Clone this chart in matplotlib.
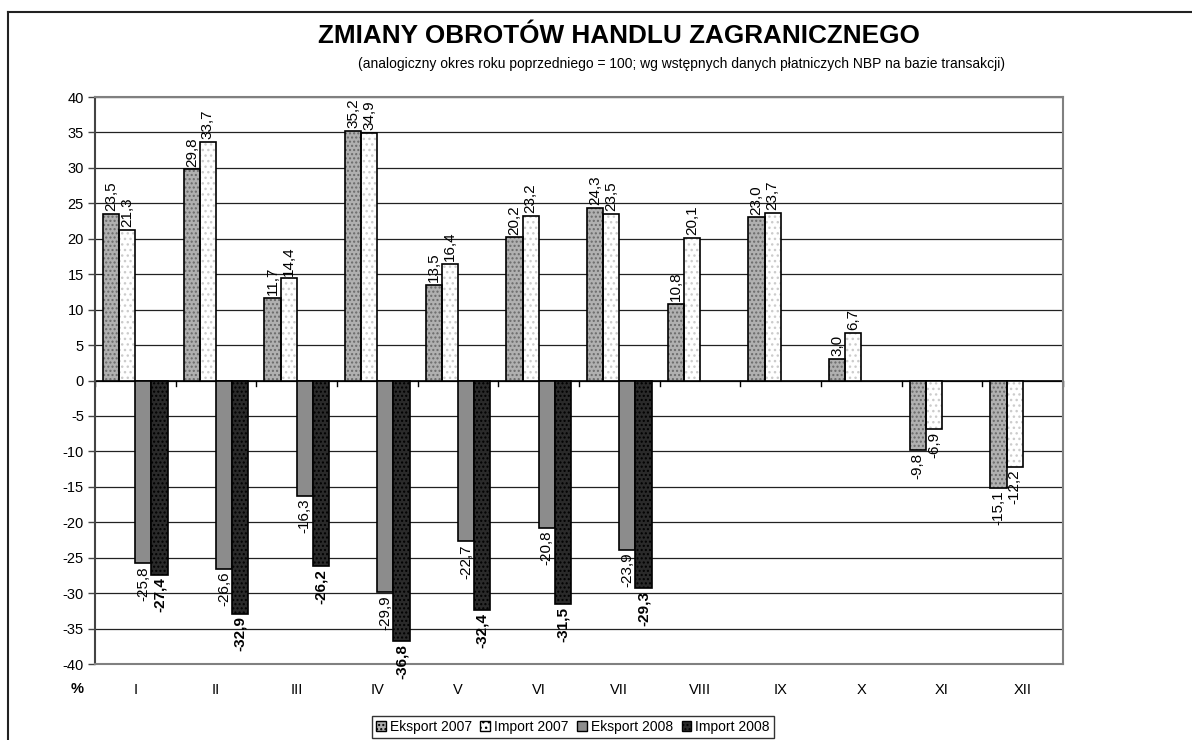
import matplotlib
matplotlib.use("Agg")
import matplotlib.pyplot as plt
from matplotlib.patches import Patch
from matplotlib.lines import Line2D
import numpy as np

plt.rcParams['font.family'] = ['Liberation Sans', 'DejaVu Sans']

months = ["I", "II", "III", "IV", "V", "VI", "VII", "VIII", "IX", "X", "XI", "XII"]
eksport_2007 = [23.5, 29.8, 11.7, 35.2, 13.5, 20.2, 24.3, 10.8, 23.0, 3.0, -9.8, -15.1]
import_2007 = [21.3, 33.7, 14.4, 34.9, 16.4, 23.2, 23.5, 20.1, 23.7, 6.7, -6.9, -12.2]
eksport_2008 = [-25.8, -26.6, -16.3, -29.9, -22.7, -20.8, -23.9]
import_2008 = [-27.4, -32.9, -26.2, -36.8, -32.4, -31.5, -29.3]
series_names = ["Eksport 2007", "Import 2007", "Eksport 2008", "Import 2008"]
y_ticks = list(range(-40, 45, 5))

# (face, hatch, hatch colour, bold label)
styles = [
    ("#b0b0b0", "....", "#6a6a6a", False),
    ("#ffffff", "...", "#cccccc", False),
    ("#8c8c8c", "", None, False),
    ("#2a2a2a", "....", "#000000", True),
]

fig = plt.figure(figsize=(11.92, 7.40), dpi=100)
ax = fig.add_axes([95 / 1192, 1 - 664 / 740, (1063 - 95) / 1192, (664 - 97) / 740])

w = 0.2
offsets = [-0.3, -0.1, 0.1, 0.3]
data = [eksport_2007, import_2007, eksport_2008, import_2008]

for s, vals in enumerate(data):
    face, hatch, hcol, bold = styles[s]
    x = np.arange(len(vals)) + offsets[s]
    if hatch:
        ax.bar(x, vals, width=w, color=face, hatch=hatch, edgecolor=hcol, linewidth=0, zorder=3)
        ax.bar(x, vals, width=w, fill=False, edgecolor="black", linewidth=1.2, zorder=4)
    else:
        ax.bar(x, vals, width=w, color=face, edgecolor="black", linewidth=1.2, zorder=3)
    for xi, v in zip(x, vals):
        txt = ("%.1f" % v).replace(".", ",")
        ax.annotate(txt, (xi, v), xytext=(0, 2 if v > 0 else -2), textcoords="offset points",
                    rotation=90, ha="center", va="bottom" if v > 0 else "top",
                    fontsize=11, fontweight="bold" if bold else "normal", zorder=5)

ax.set_xlim(-0.5, len(months) - 0.5)
ax.set_ylim(-40, 40)
ax.set_yticks(y_ticks)
ax.set_yticklabels([str(t) for t in y_ticks], fontsize=10.5)
ax.yaxis.grid(True, color="#222222", linewidth=0.9, zorder=1)
ax.set_axisbelow(True)
ax.tick_params(axis="y", length=5, width=1, color="#444444", pad=3)

ax.set_xticks(range(len(months)))
ax.set_xticklabels(months, fontsize=10.5)
ax.tick_params(axis="x", length=0, pad=14)

# zero axis with category boundary ticks
ax.axhline(0, color="black", linewidth=1.2, zorder=2)
for b in np.arange(len(months) + 1) - 0.5:
    ax.plot([b, b], [0, -0.8], color="black", linewidth=1, zorder=2, clip_on=False)

for side in ["right", "bottom", "top"]:
    ax.spines[side].set_color("#808080")
    ax.spines[side].set_linewidth(1.5)
ax.spines["left"].set_color("#444444")
ax.spines["left"].set_linewidth(1.5)

fig.text(77 / 1192, 1 - 689 / 740, "%", fontsize=10.5, fontweight="bold", ha="center", va="center")
fig.text(619 / 1192, 1 - 36 / 740, "ZMIANY OBROTÓW HANDLU ZAGRANICZNEGO",
         fontsize=18.8, fontweight="bold", ha="center", va="center")
fig.text(682 / 1192, 1 - 64 / 740,
         "(analogiczny okres roku poprzedniego = 100; wg wstępnych danych płatniczych NBP na bazie transakcji)",
         fontsize=10, ha="center", va="center")

# outer frame of the chart area
fig.add_artist(Line2D([8 / 1192, 1], [1 - 12 / 740, 1 - 12 / 740], color="#222222", linewidth=1.5))
fig.add_artist(Line2D([8 / 1192, 8 / 1192], [0, 1 - 12 / 740], color="#222222", linewidth=1.5))

handles = []
for s in range(4):
    face, hatch, hcol, bold = styles[s]
    handles.append(Patch(facecolor=face, edgecolor="black", hatch=hatch, linewidth=1))
leg = fig.legend(handles, series_names, loc="center", bbox_to_anchor=(573 / 1192, 1 - 727 / 740),
                 ncol=4, fontsize=10, frameon=True, fancybox=False, edgecolor="black",
                 handlelength=0.7, handleheight=0.7, handletextpad=0.3, columnspacing=0.6,
                 borderpad=0.3, borderaxespad=0)
leg.get_frame().set_linewidth(1)

fig.savefig("out.png", dpi=100)
